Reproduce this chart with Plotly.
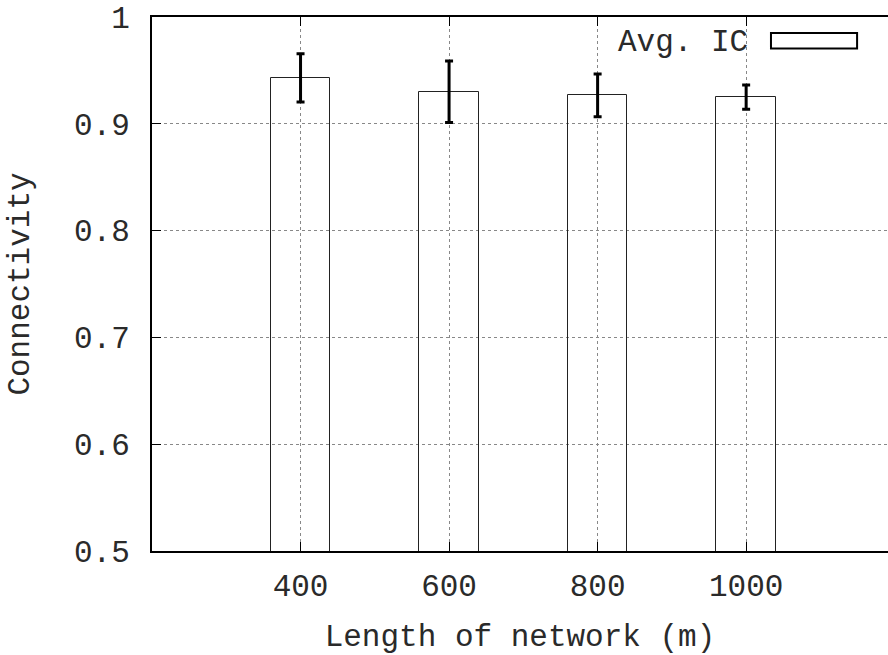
import plotly.graph_objects as go

# Network length categories (m) and average IC connectivity
lengths = [400, 600, 800, 1000]
avg_ic = [0.943, 0.930, 0.9266, 0.925]
ic_err = [0.0225, 0.0288, 0.0201, 0.0113]

series_name = "Avg. IC"
x_title = "Length of network (m)"
y_title = "Connectivity"
y_ticks = [0.5, 0.6, 0.7, 0.8, 0.9, 1.0]
y_tick_text = ["0.5", "0.6", "0.7", "0.8", "0.9", "1"]

FONT = "Liberation Mono, Courier New, monospace"
FS = 31
TXT = "#2a2a2a"

fig = go.Figure()
fig.add_trace(go.Bar(
    x=lengths,
    y=avg_ic,
    width=80,
    base=0,
    name=series_name,
    marker=dict(color="rgba(0,0,0,0)", line=dict(color="#222", width=1)),
    error_y=dict(type="data", array=ic_err, visible=True,
                 color="black", thickness=3, width=4),
    showlegend=False,
))

# legend key: label plus an empty box
fig.add_annotation(
    xref="paper", yref="paper", x=0.8125, y=0.952,
    xanchor="right", yanchor="middle", showarrow=False,
    text=series_name, font=dict(family=FONT, size=FS, color=TXT),
)
fig.add_shape(
    type="rect", xref="paper", yref="paper",
    x0=0.841, x1=0.958, y0=0.941, y1=0.970,
    line=dict(color="black", width=2), fillcolor="white",
)

fig.update_layout(
    width=888, height=655,
    margin=dict(l=152, r=0, t=17, b=100),
    paper_bgcolor="white", plot_bgcolor="white",
    font=dict(family=FONT, size=FS, color=TXT),
    bargap=0,
)

fig.update_xaxes(
    range=[200, 1191],
    tickvals=lengths,
    ticktext=[str(v) for v in lengths],
    ticks="inside", ticklen=9, tickcolor="black", tickwidth=1,
    showline=True, linecolor="black", linewidth=2, mirror="ticks",
    showgrid=True, gridcolor="#888", griddash="dot", gridwidth=1,
    zeroline=False,
    ticklabelstandoff=6,
    title=dict(text=x_title, standoff=28, font=dict(family=FONT, size=FS)),
)
fig.update_yaxes(
    range=[0.5, 1.0],
    tickvals=y_ticks,
    ticktext=y_tick_text,
    ticks="inside", ticklen=9, tickcolor="black", tickwidth=1,
    showline=True, linecolor="black", linewidth=2, mirror=False,
    showgrid=True, gridcolor="#888", griddash="dot", gridwidth=1,
    zeroline=False,
    ticklabelstandoff=14,
    title=dict(text=y_title, standoff=35, font=dict(family=FONT, size=FS)),
)

fig.write_html("out.html")
